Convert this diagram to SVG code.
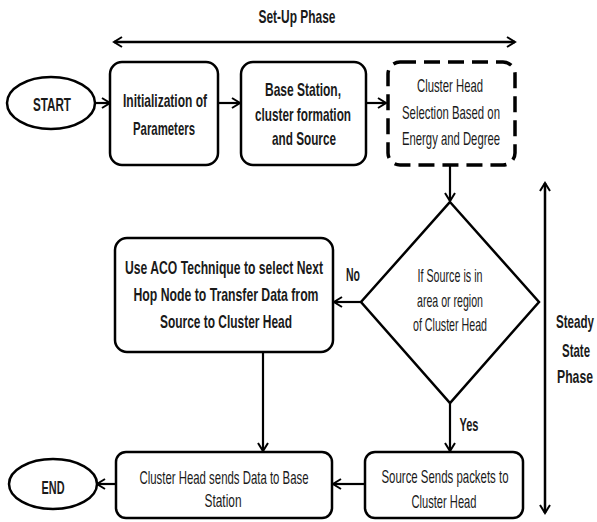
<svg xmlns="http://www.w3.org/2000/svg" width="597" height="522" viewBox="0 0 597 522">
<defs>
<marker id="ah" markerWidth="12" markerHeight="12" refX="9" refY="6" orient="auto-start-reverse" markerUnits="userSpaceOnUse">
<path d="M1,1 L9,6 L1,11" fill="none" stroke="#000" stroke-width="2"/>
</marker>
<style>
.t{font-family:"Liberation Sans",Arial,sans-serif;font-size:19px;fill:#1a1a1a;text-anchor:middle}
.b{font-weight:bold}
.box{fill:#fff;stroke:#000;stroke-width:2.5}
.dash{fill:#fff;stroke:#000;stroke-width:3.5;stroke-dasharray:16,8}
.ln{fill:none;stroke:#000;stroke-width:2.2;marker-end:url(#ah)}
.dl{fill:none;stroke:#000;stroke-width:2.5;marker-end:url(#ah);marker-start:url(#ah)}
</style>
</defs>
<rect width="597" height="522" fill="#fff"/>
<g id="connectors">
<line class="dl" x1="114" y1="42" x2="515" y2="42"/>
<line class="dl" x1="545" y1="183" x2="545" y2="513"/>
<line class="ln" x1="96" y1="103" x2="110" y2="103"/>
<line class="ln" x1="219" y1="103" x2="240" y2="103"/>
<line class="ln" x1="367" y1="103" x2="386" y2="103"/>
<line class="ln" x1="450" y1="166" x2="450" y2="201"/>
<line class="ln" x1="361" y1="302" x2="334" y2="302"/>
<line class="ln" x1="450" y1="403" x2="450" y2="451"/>
<line class="ln" x1="263" y1="353" x2="263" y2="451"/>
<line class="ln" x1="365" y1="484" x2="333" y2="484"/>
<line class="ln" x1="115" y1="484" x2="97" y2="484"/>
</g>
<g id="labels">
<text class="t b" x="297" y="23" textLength="77" lengthAdjust="spacingAndGlyphs">Set-Up Phase</text>
<text class="t b" x="575" y="328" textLength="38" lengthAdjust="spacingAndGlyphs">Steady</text>
<text class="t b" x="576" y="357" textLength="28" lengthAdjust="spacingAndGlyphs">State</text>
<text class="t b" x="575" y="383" textLength="36" lengthAdjust="spacingAndGlyphs">Phase</text>
<text class="t b" x="353" y="281" textLength="14" lengthAdjust="spacingAndGlyphs">No</text>
<text class="t b" x="469" y="431" textLength="19" lengthAdjust="spacingAndGlyphs">Yes</text>
</g>
<g id="start">
<ellipse class="box" cx="51" cy="103" rx="44" ry="26"/>
<text class="t b" x="52" y="111" textLength="38" lengthAdjust="spacingAndGlyphs">START</text>
</g>
<g id="init">
<rect class="box" x="110" y="62" width="108" height="103" rx="12"/>
<text class="t b" x="165" y="107" textLength="84" lengthAdjust="spacingAndGlyphs">Initialization of</text>
<text class="t b" x="164" y="135" textLength="62" lengthAdjust="spacingAndGlyphs">Parameters</text>
</g>
<g id="base">
<rect class="box" x="241" y="62" width="125" height="103" rx="12"/>
<text class="t b" x="303" y="96" textLength="76" lengthAdjust="spacingAndGlyphs">Base Station,</text>
<text class="t b" x="303" y="121" textLength="96" lengthAdjust="spacingAndGlyphs">cluster formation</text>
<text class="t b" x="304" y="145" textLength="64" lengthAdjust="spacingAndGlyphs">and Source</text>
</g>
<g id="chsel">
<rect class="dash" x="388" y="62" width="127" height="103" rx="12"/>
<text class="t" x="450" y="92" textLength="66" lengthAdjust="spacingAndGlyphs">Cluster Head</text>
<text class="t" x="451" y="119" textLength="98" lengthAdjust="spacingAndGlyphs">Selection Based on</text>
<text class="t" x="451" y="145" textLength="98" lengthAdjust="spacingAndGlyphs">Energy and Degree</text>
</g>
<g id="decision">
<polygon class="box" points="450,202 539,302 450,403 361,302"/>
<text class="t" x="450" y="282" textLength="65" lengthAdjust="spacingAndGlyphs">If Source is in</text>
<text class="t" x="450" y="307" textLength="66" lengthAdjust="spacingAndGlyphs">area or region</text>
<text class="t" x="450" y="331" textLength="74" lengthAdjust="spacingAndGlyphs">of Cluster Head</text>
</g>
<g id="aco">
<rect class="box" x="115" y="238" width="218" height="114" rx="12"/>
<text class="t b" x="224" y="274" textLength="198" lengthAdjust="spacingAndGlyphs">Use ACO Technique to select Next</text>
<text class="t b" x="226" y="301" textLength="185" lengthAdjust="spacingAndGlyphs">Hop Node to Transfer Data from</text>
<text class="t b" x="226" y="328" textLength="132" lengthAdjust="spacingAndGlyphs">Source to Cluster Head</text>
</g>
<g id="chsend">
<rect class="box" x="116" y="452" width="216" height="66" rx="10"/>
<text class="t" x="224" y="484" textLength="169" lengthAdjust="spacingAndGlyphs">Cluster Head sends Data to Base</text>
<text class="t" x="223" y="507" textLength="37" lengthAdjust="spacingAndGlyphs">Station</text>
</g>
<g id="srcsend">
<rect class="box" x="365" y="452" width="158" height="66" rx="10"/>
<text class="t" x="445" y="483" textLength="127" lengthAdjust="spacingAndGlyphs">Source Sends packets to</text>
<text class="t" x="444" y="508" textLength="65" lengthAdjust="spacingAndGlyphs">Cluster Head</text>
</g>
<g id="end">
<ellipse class="box" cx="53" cy="484" rx="44" ry="25"/>
<text class="t b" x="53" y="494" textLength="23" lengthAdjust="spacingAndGlyphs">END</text>
</g>
</svg>
